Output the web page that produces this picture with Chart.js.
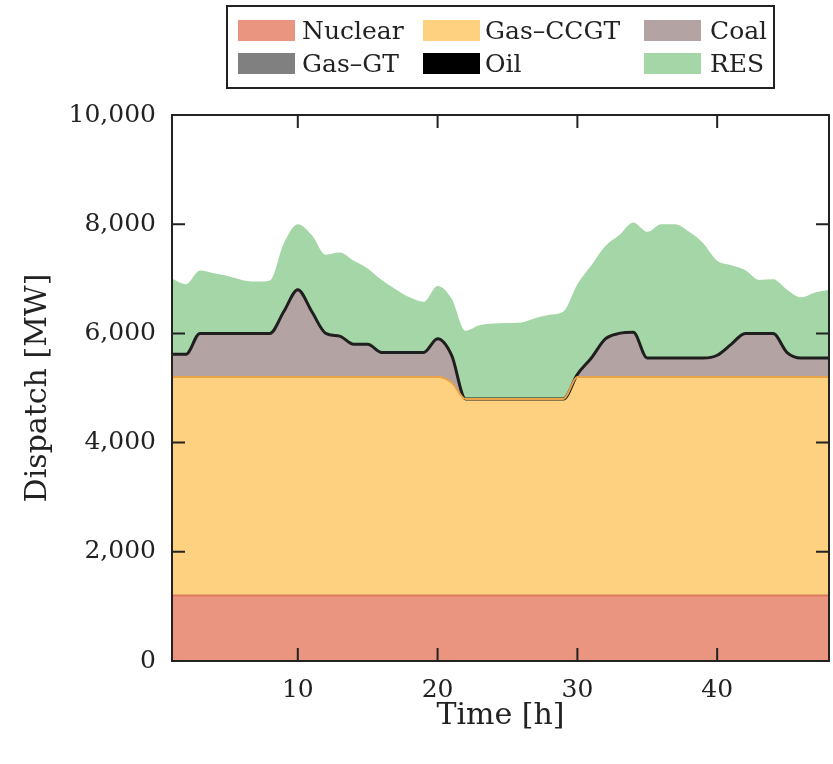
<!DOCTYPE html>
<html>
<head>
<meta charset="utf-8">
<title>Dispatch</title>
<script src="https://cdn.jsdelivr.net/npm/chart.js@4.4.1/dist/chart.umd.min.js"></script>
<style>
  body { margin: 0; background: #fff; }
  #wrap { width: 833px; height: 764px; }
</style>
</head>
<body>
<div id="wrap"><canvas id="dispatch" width="833" height="764"></canvas></div>
<script>
// hourly dispatch per technology, MW
var hours = [1,2,3,4,5,6,7,8,9,10,11,12,13,14,15,16,17,18,19,20,21,22,23,24,
             25,26,27,28,29,30,31,32,33,34,35,36,37,38,39,40,41,42,43,44,45,46,47,48];
var nuclear = [1200,1200,1200,1200,1200,1200,1200,1200,1200,1200,1200,1200,1200,1200,1200,1200,
               1200,1200,1200,1200,1200,1200,1200,1200,1200,1200,1200,1200,1200,1200,1200,1200,
               1200,1200,1200,1200,1200,1200,1200,1200,1200,1200,1200,1200,1200,1200,1200,1200];
var gasCCGT = [4000,4000,4000,4000,4000,4000,4000,4000,4000,4000,4000,4000,4000,4000,4000,4000,
               4000,4000,4000,4000,3900,3600,3600,3600,3600,3600,3600,3600,3600,4000,4000,4000,
               4000,4000,4000,4000,4000,4000,4000,4000,4000,4000,4000,4000,4000,4000,4000,4000];
var coal = [420,420,800,800,800,800,800,800,1200,1600,1200,800,750,600,600,450,
            450,450,450,700,500,0,0,0,0,0,0,0,0,50,350,700,
            800,820,350,350,350,350,350,400,600,800,800,800,450,350,350,350];
var gasGT = [0,0,0,0,0,0,0,0,0,0,0,0,0,0,0,0,0,0,0,0,0,0,0,0,
             0,0,0,0,0,0,0,0,0,0,0,0,0,0,0,0,0,0,0,0,0,0,0,0];
var oil = [0,0,0,0,0,0,0,0,0,0,0,0,0,0,0,0,0,0,0,0,0,0,0,0,
           0,0,0,0,0,0,0,0,0,0,0,0,0,0,0,0,0,0,0,0,0,0,0,0];
var res = [1380,1280,1150,1100,1050,980,950,970,1250,1200,1400,1440,1530,1530,1390,1330,
           1160,1010,930,970,1040,1250,1350,1380,1390,1400,1480,1540,1600,1650,1700,1700,
           1800,2010,2310,2450,2450,2310,2100,1730,1450,1160,980,990,1150,1110,1200,1250];
var xTicks = [10, 20, 30, 40];
var yTicks = [0, 2000, 4000, 6000, 8000, 10000];

var serif = "'DejaVu Serif', 'Liberation Serif', serif";

function layer(label, values, fill, line, width, fillTo) {
  return {
    label: label,
    data: values,
    backgroundColor: fill,
    borderColor: line,
    borderWidth: width,
    fill: fillTo,
    pointRadius: 0,
    cubicInterpolationMode: 'monotone'
  };
}

// legend box drawn as a 3 x 2 grid
var legendGrid = {
  id: 'legendGrid',
  afterDraw: function(chart) {
    var ctx = chart.ctx;
    var ds = chart.data.datasets;
    var colX = [238, 423, 644];
    var textX = [302, 485, 710];
    var rowY = [20, 53];
    ctx.save();
    ctx.fillStyle = '#fff';
    ctx.fillRect(227, 6, 547, 82);
    ctx.strokeStyle = '#222';
    ctx.lineWidth = 2;
    ctx.strokeRect(227, 6, 547, 82);
    ctx.font = '25px ' + serif;
    ctx.textBaseline = 'middle';
    ctx.textAlign = 'left';
    for (var i = 0; i < ds.length; i++) {
      var c = i % 3, r = Math.floor(i / 3);
      ctx.fillStyle = ds[i].backgroundColor;
      ctx.fillRect(colX[c], rowY[r], 57, 21);
      ctx.fillStyle = '#222';
      ctx.fillText(ds[i].label, textX[c], rowY[r] + 12);
    }
    ctx.restore();
  }
};

// axis frame with inward ticks on every side
var frame = {
  id: 'frame',
  afterDatasetsDraw: function(chart) {
    var ctx = chart.ctx, a = chart.chartArea;
    var x = chart.scales.x, y = chart.scales.y;
    var len = 13;
    ctx.save();
    ctx.strokeStyle = '#222';
    ctx.lineWidth = 2;
    ctx.beginPath();
    yTicks.forEach(function(v) {
      var py = y.getPixelForValue(v);
      ctx.moveTo(a.left, py); ctx.lineTo(a.left + len, py);
      ctx.moveTo(a.right, py); ctx.lineTo(a.right - len, py);
    });
    xTicks.forEach(function(v) {
      var px = x.getPixelForValue(v);
      ctx.moveTo(px, a.bottom); ctx.lineTo(px, a.bottom - len);
      ctx.moveTo(px, a.top); ctx.lineTo(px, a.top + len);
    });
    ctx.stroke();
    ctx.strokeRect(a.left, a.top, a.right - a.left, a.bottom - a.top);
    ctx.restore();
  }
};

var ctx = document.getElementById('dispatch');
new Chart(ctx, {
  type: 'line',
  data: {
    labels: hours,
    datasets: [
      layer('Nuclear', nuclear, '#EA9580', '#DB7A5E', 2, 'origin'),
      layer('Gas\u2013CCGT', gasCCGT, '#FDD17F', '#E9A44A', 2, '-1'),
      layer('Coal', coal, '#B3A3A3', 'transparent', 1, '-1'),
      layer('Gas\u2013GT', gasGT, '#808080', 'transparent', 1, '-1'),
      layer('Oil', oil, '#000000', '#1f1f1f', 3, '-1'),
      layer('RES', res, '#A5D6A7', 'transparent', 1, '-1')
    ]
  },
  options: {
    responsive: false,
    animation: false,
    layout: { padding: { top: 115, right: 4, left: 8, bottom: 0 } },
    plugins: {
      legend: { display: false },
      tooltip: { enabled: false },
      filler: { drawTime: 'beforeDatasetsDraw' }
    },
    scales: {
      x: {
        type: 'linear',
        min: 1,
        max: 48,
        grid: { display: false, drawTicks: false },
        border: { display: false },
        afterBuildTicks: function(s) { s.ticks = xTicks.map(function(v) { return { value: v }; }); },
        afterFit: function(s) { s.height = 103; },
        ticks: { padding: 14, color: '#222', font: { family: serif, size: 25 } },
        title: {
          display: true, text: 'Time [h]', color: '#222',
          font: { family: serif, size: 30 },
          padding: { top: 0, bottom: 30 }
        }
      },
      y: {
        stacked: true,
        min: 0,
        max: 10000,
        grid: { display: false, drawTicks: false },
        border: { display: false },
        afterBuildTicks: function(s) { s.ticks = yTicks.map(function(v) { return { value: v }; }); },
        afterFit: function(s) { s.width = 164; },
        ticks: {
          padding: 16, color: '#222', font: { family: serif, size: 25 },
          callback: function(v) { return v.toLocaleString('en-US'); }
        },
        title: {
          display: true, text: 'Dispatch [MW]', color: '#222',
          font: { family: serif, size: 30 },
          padding: { top: 12, bottom: 0 }
        }
      }
    }
  },
  plugins: [frame, legendGrid]
});
</script>
</body>
</html>
